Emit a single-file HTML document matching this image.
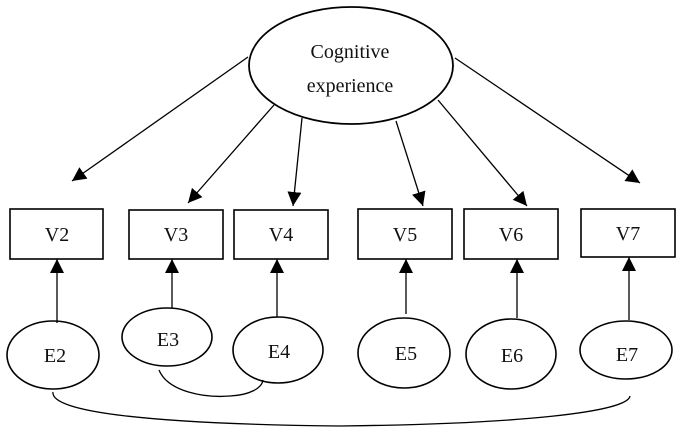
<!DOCTYPE html>
<html><head><meta charset="utf-8"><style>
html,body{margin:0;padding:0;background:#fff;}
svg{display:block;}
text{font-family:"Liberation Serif",serif;font-size:20px;fill:#111;text-anchor:middle;}
</style></head><body>
<svg width="681" height="433" viewBox="0 0 681 433" xmlns="http://www.w3.org/2000/svg">
<defs>
<marker id="a" viewBox="0 0 10 10" refX="10" refY="5" markerWidth="14" markerHeight="14" markerUnits="userSpaceOnUse" orient="auto">
<path d="M0,0 L10,5 L0,10 z" fill="#000"/></marker>
</defs>
<g stroke="#000" stroke-width="1.3" fill="none">
<ellipse cx="351" cy="65.5" rx="102" ry="58.5" stroke-width="1.8"/>
<line x1="248" y1="57" x2="72" y2="181" marker-end="url(#a)"/>
<line x1="274" y1="105" x2="188" y2="203" marker-end="url(#a)"/>
<line x1="302" y1="118" x2="293" y2="206" marker-end="url(#a)"/>
<line x1="396" y1="121" x2="423" y2="206" marker-end="url(#a)"/>
<line x1="438" y1="100" x2="527" y2="206" marker-end="url(#a)"/>
<line x1="455" y1="58" x2="640" y2="183" marker-end="url(#a)"/>
<g stroke-width="1.6">
<rect x="10" y="209" width="93" height="50"/>
<rect x="129" y="210" width="94" height="49"/>
<rect x="234" y="210" width="94" height="49"/>
<rect x="358" y="209" width="94" height="50"/>
<rect x="464" y="209" width="94" height="50"/>
<rect x="581" y="209" width="94" height="48"/>
<ellipse cx="53" cy="355" rx="46" ry="34"/>
<ellipse cx="167" cy="337" rx="45" ry="29"/>
<ellipse cx="278" cy="350" rx="45" ry="33"/>
<ellipse cx="404" cy="353" rx="46" ry="35"/>
<ellipse cx="511" cy="354" rx="45" ry="35"/>
<ellipse cx="626" cy="350" rx="46" ry="29"/>
</g>
<line x1="57" y1="323" x2="57" y2="259" marker-end="url(#a)"/>
<line x1="172" y1="308" x2="172" y2="259" marker-end="url(#a)"/>
<line x1="277" y1="317" x2="277" y2="259" marker-end="url(#a)"/>
<line x1="406" y1="314" x2="406" y2="259" marker-end="url(#a)"/>
<line x1="517" y1="318" x2="517" y2="259" marker-end="url(#a)"/>
<line x1="629" y1="320" x2="629" y2="257" marker-end="url(#a)"/>
<path d="M159,370 C168,392 205,398 230,396 C250,395 262,388 263,380"/>
<path d="M53,392 C50,412 150,424 340,426 C520,424 628,412 630,396"/>
</g>
<text x="350" y="58">Cognitive</text>
<text x="350" y="92">experience</text>
<text x="57" y="241">V2</text>
<text x="176" y="241">V3</text>
<text x="281" y="241">V4</text>
<text x="405" y="241">V5</text>
<text x="511" y="241">V6</text>
<text x="628" y="240">V7</text>
<text x="55" y="362">E2</text>
<text x="168" y="346">E3</text>
<text x="279" y="358">E4</text>
<text x="406" y="360">E5</text>
<text x="512" y="362">E6</text>
<text x="627" y="361">E7</text>
</svg>
</body></html>
